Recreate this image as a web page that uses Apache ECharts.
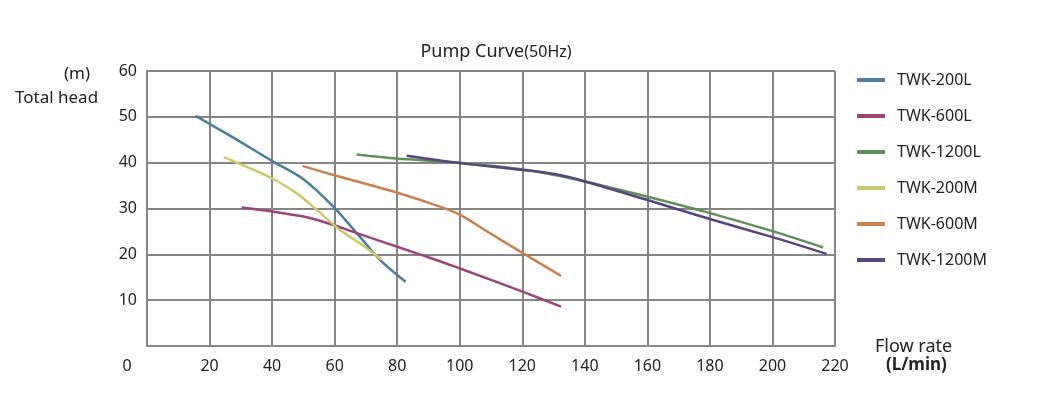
<!DOCTYPE html>
<html lang="en">
<head>
    <meta charset="UTF-8">
    <title>Pump Curve</title>
    <script src="https://cdn.jsdelivr.net/npm/echarts@6/dist/echarts.min.js"></script>
    <style>
        html, body { margin: 0; padding: 0; background: #fff; }
        .chart { width: 1039px; height: 397px; }
    </style>
</head>
<body>
<div class="chart"></div>
<script>
    // 数据（流量 L/min, 扬程 m）
    let names = ['TWK-200L', 'TWK-600L', 'TWK-1200L', 'TWK-200M', 'TWK-600M', 'TWK-1200M'];
    let colors = ['#4a7f9c', '#9b4478', '#5e9158', '#cbc96c', '#c8804f', '#58457e'];

    let twk200L = [[15.5, 50.2], [28, 45.3], [39.9, 40.4], [50, 36.4], [59.6, 30.4], [68.1, 23.8], [74.5, 18.8], [82.7, 14.0]];
    let twk600L = [[30.3, 30.2], [40.4, 29.3], [51.1, 28.1], [59.6, 26.4], [68.1, 24.4], [79.8, 21.7], [93.7, 18.5], [100.1, 16.9], [120.3, 11.8], [132.4, 8.6]];
    let twk1200L = [[67, 41.8], [79.8, 40.9], [100.1, 40.0], [120.3, 38.5], [140.1, 35.9], [159.8, 32.6], [180, 29.0], [200.3, 25.0], [216.2, 21.5]];
    let twk200M = [[24.6, 41.2], [39.9, 36.6], [47.9, 33.3], [54.3, 29.7], [61.7, 25.3], [68.1, 22.4], [75.0, 18.8]];
    let twk600M = [[49.7, 39.3], [59.6, 37.3], [79.8, 33.5], [93.7, 30.4], [100.1, 28.6], [109.7, 24.6], [120.3, 20.2], [132.4, 15.3]];
    let twk1200M = [[83, 41.5], [100.1, 39.9], [120.3, 38.4], [132.1, 37.3], [140.1, 35.9], [159.8, 31.9], [180, 27.7], [200.3, 23.7], [217.3, 20.1]];

    let xTicks = [0, 20, 40, 60, 80, 100, 120, 140, 160, 180, 200, 220];
    let yTicks = [0, 10, 20, 30, 40, 50, 60];

    let seriesData = [twk200L, twk600L, twk1200L, twk200M, twk600M, twk1200M];

    let chart = echarts.init(document.querySelector('.chart'));

    let gridLine = {color: '#858585', width: 2};
    let font = '"Noto Sans", "Open Sans", sans-serif';

    let option = {
        backgroundColor: '#fff',
        animation: false,
        title: {
            text: '{a|Pump Curve}{b|(50Hz)}',
            left: 491,
            top: 38,
            textAlign: 'center',
            textStyle: {
                fontWeight: 'normal',
                rich: {
                    a: {fontSize: 18, color: '#222', fontFamily: font, fontWeight: 'normal'},
                    b: {fontSize: 16, color: '#222', fontFamily: font, fontWeight: 'normal'}
                }
            }
        },
        legend: {
            orient: 'vertical',
            left: 857,
            top: 70,
            padding: 0,
            icon: 'rect',
            itemWidth: 28,
            itemHeight: 4,
            itemGap: 16,
            data: names,
            textStyle: {
                fontSize: 16,
                color: '#222',
                fontFamily: font,
                padding: [0, 0, 0, 7],
                lineHeight: 20
            }
        },
        grid: {
            left: 147,
            right: 204,
            top: 71,
            bottom: 51
        },
        xAxis: {
            type: 'value',
            min: xTicks[0],
            max: xTicks[xTicks.length - 1],
            interval: 20,
            axisLine: {show: true, lineStyle: gridLine},
            axisTick: {show: false},
            splitLine: {show: true, lineStyle: gridLine},
            axisLabel: {
                margin: 12,
                fontSize: 16,
                color: '#222',
                fontFamily: font,
                formatter(v) {
                    return v === 0 ? '{z|0}' : String(v);
                },
                rich: {
                    z: {fontSize: 16, color: '#222', fontFamily: font, padding: [0, 40, 0, 0]}
                }
            }
        },
        yAxis: {
            type: 'value',
            min: yTicks[0],
            max: yTicks[yTicks.length - 1],
            interval: 10,
            axisLine: {show: true, lineStyle: gridLine},
            axisTick: {show: false},
            splitLine: {show: true, lineStyle: gridLine},
            axisLabel: {
                showMinLabel: false,
                margin: 10,
                fontSize: 16,
                color: '#222',
                fontFamily: font
            }
        },
        graphic: [
            {type: 'text', left: 64, top: 66, style: {text: '(m)', fontSize: 17, fill: '#222', fontFamily: font}},
            {type: 'text', left: 15, top: 90, style: {text: 'Total head', fontSize: 17, fill: '#222', fontFamily: font}},
            {type: 'text', left: 875, top: 338, style: {text: 'Flow rate', fontSize: 18, fill: '#222', fontFamily: font}},
            {type: 'text', left: 886, top: 357, style: {text: '(L/min)', fontSize: 17, fontWeight: 'bold', fill: '#222', fontFamily: font}}
        ],
        series: names.map((name, i) => ({
            name,
            type: 'line',
            smooth: 0.3,
            showSymbol: false,
            color: colors[i],
            lineStyle: {width: 2.5, color: colors[i]},
            data: seriesData[i]
        }))
    };

    chart.setOption(option);
</script>
</body>
</html>
